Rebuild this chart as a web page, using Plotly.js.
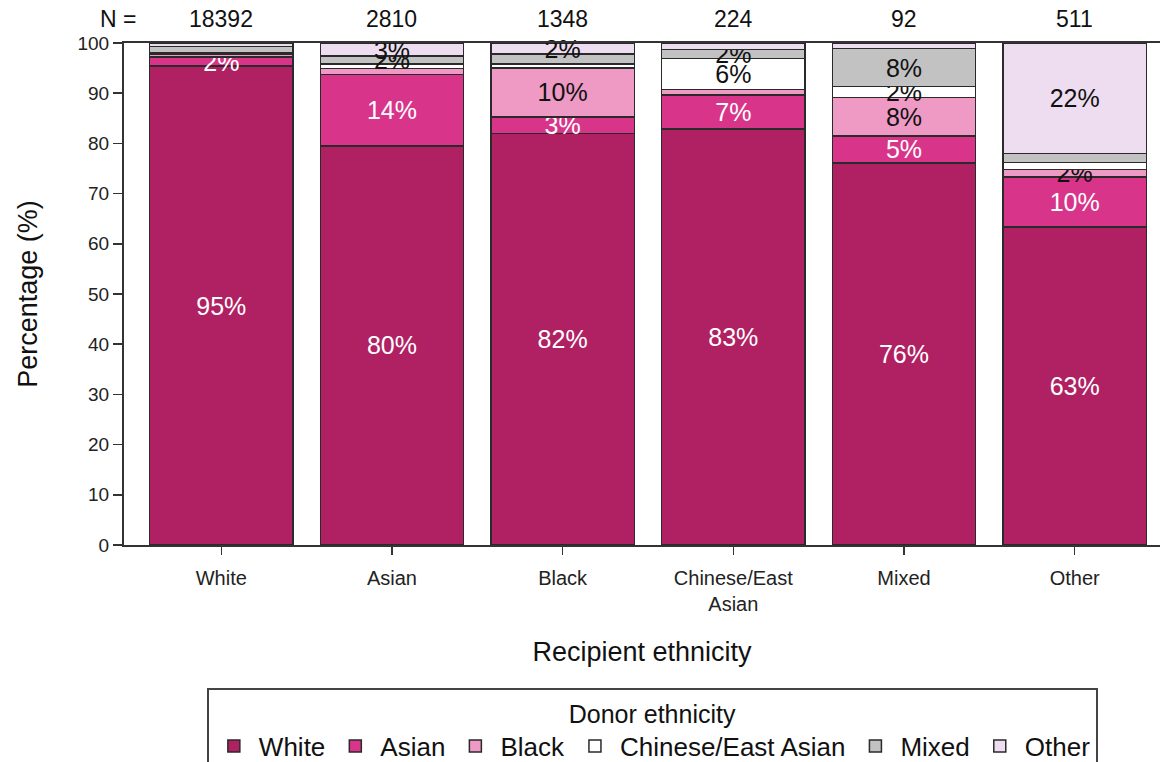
<!DOCTYPE html>
<html>
<head>
<meta charset="utf-8">
<script src="https://cdn.plot.ly/plotly-3.0.1.min.js"></script>
<style>html,body{margin:0;padding:0;background:#fff;}#chart{width:1164px;height:762px;}</style>
</head>
<body>
<div id="chart"></div>
<script>
// Recipient ethnicity categories
const categories = ["White", "Asian", "Black", "Chinese/East<br>Asian", "Mixed", "Other"];
const nCounts = ["18392", "2810", "1348", "224", "92", "511"];

// Donor ethnicity shares (%) per recipient category
const donorWhite   = [95.4, 79.5, 82.0, 82.9, 76.1, 63.3];
const donorAsian   = [1.8, 14.2, 3.3, 6.7, 5.4, 10.0];
const donorBlack   = [0.6, 1.2, 9.7, 1.1, 7.6, 1.5];
const donorChinese = [0.3, 0.9, 0.8, 6.2, 2.2, 1.4];
const donorMixed   = [1.2, 1.6, 2.0, 1.8, 7.6, 1.8];
const donorOther   = [0.7, 2.6, 2.2, 1.3, 1.1, 22.0];

// Segment labels as printed
const lblWhite   = ["95%", "80%", "82%", "83%", "76%", "63%"];
const lblAsian   = ["2%", "14%", "3%", "7%", "5%", "10%"];
const lblBlack   = ["", "", "10%", "", "8%", "2%"];
const lblChinese = ["", "", "", "6%", "2%", ""];
const lblMixed   = ["", "2%", "", "2%", "8%", ""];
const lblOther   = ["", "3%", "2%", "", "", "22%"];

const seriesNames = ["White", "Asian", "Black", "Chinese/East Asian", "Mixed", "Other"];
const seriesValues = [donorWhite, donorAsian, donorBlack, donorChinese, donorMixed, donorOther];
const seriesLabels = [lblWhite, lblAsian, lblBlack, lblChinese, lblMixed, lblOther];
const seriesColors = ["#B02163", "#D8358A", "#EE9AC4", "#FFFFFF", "#C2C2C2", "#EEDDF0"];
const labelColors = ["#FFFFFF", "#FFFFFF", "#111111", "#111111", "#111111", "#111111"];

const idx = categories.map((_, i) => i);
const FONT = "Liberation Sans, Arial, sans-serif";

const traces = seriesNames.map((name, s) => ({
  type: "bar",
  name: name,
  x: idx,
  y: seriesValues[s],
  text: seriesLabels[s],
  textposition: "inside",
  insidetextanchor: "middle",
  constraintext: "none",
  textangle: 0,
  textfont: {family: FONT, size: 25, color: labelColors[s]},
  marker: {color: seriesColors[s], line: {color: "#2a2a2a", width: 1.5}},
  hoverinfo: "skip",
  cliponaxis: false
}));

const annotations = categories.map((c, i) => ({
  x: i, y: 1.0, xref: "x", yref: "paper", yanchor: "bottom", yshift: 9,
  text: nCounts[i], showarrow: false,
  font: {family: FONT, size: 23, color: "#111"}
}));
annotations.push({
  x: -0.006, y: 1.0, xref: "paper", yref: "paper", yanchor: "bottom", yshift: 9, xanchor: "center",
  text: "N =", showarrow: false,
  font: {family: FONT, size: 23, color: "#111"}
});

const layout = {
  width: 1164, height: 762,
  margin: {l: 124, r: 4, t: 43, b: 217, autoexpand: false},
  paper_bgcolor: "#fff", plot_bgcolor: "#fff",
  barmode: "stack",
  bargap: 0.16,
  showlegend: true,
  font: {family: FONT, color: "#222"},
  xaxis: {
    range: [-0.57, 5.5],
    tickmode: "array", tickvals: idx, ticktext: categories,
    ticks: "outside", ticklen: 8, tickwidth: 1.5, tickcolor: "#333",
    ticklabelstandoff: 6,
    showline: true, linecolor: "#333", linewidth: 2, mirror: true,
    showgrid: false, zeroline: false, automargin: false,
    tickfont: {size: 20, color: "#222"},
    title: {text: "Recipient ethnicity", font: {size: 27, color: "#111"}, standoff: 28}
  },
  yaxis: {
    range: [0, 100], tickvals: [0,10,20,30,40,50,60,70,80,90,100],
    ticks: "outside", ticklen: 9, tickwidth: 1.5, tickcolor: "#333",
    showline: true, linecolor: "#333", linewidth: 2,
    showgrid: false, zeroline: false, automargin: false,
    tickfont: {size: 19, color: "#222"},
    title: {text: "Percentage (%)", font: {size: 27, color: "#111"}, standoff: 32}
  },
  legend: {
    orientation: "h", x: 0.51, xanchor: "center", y: -0.285, yanchor: "top",
    bordercolor: "#444", borderwidth: 2, bgcolor: "#fff",
    font: {size: 26, color: "#111"},
    title: {text: "Donor ethnicity", side: "top center", font: {size: 25, color: "#111"}},
    itemwidth: 40, traceorder: "normal", tracegroupgap: 0
  },
  annotations: annotations
};

Plotly.newPlot("chart", traces, layout, {displayModeBar: false, staticPlot: true});
</script>
</body>
</html>
